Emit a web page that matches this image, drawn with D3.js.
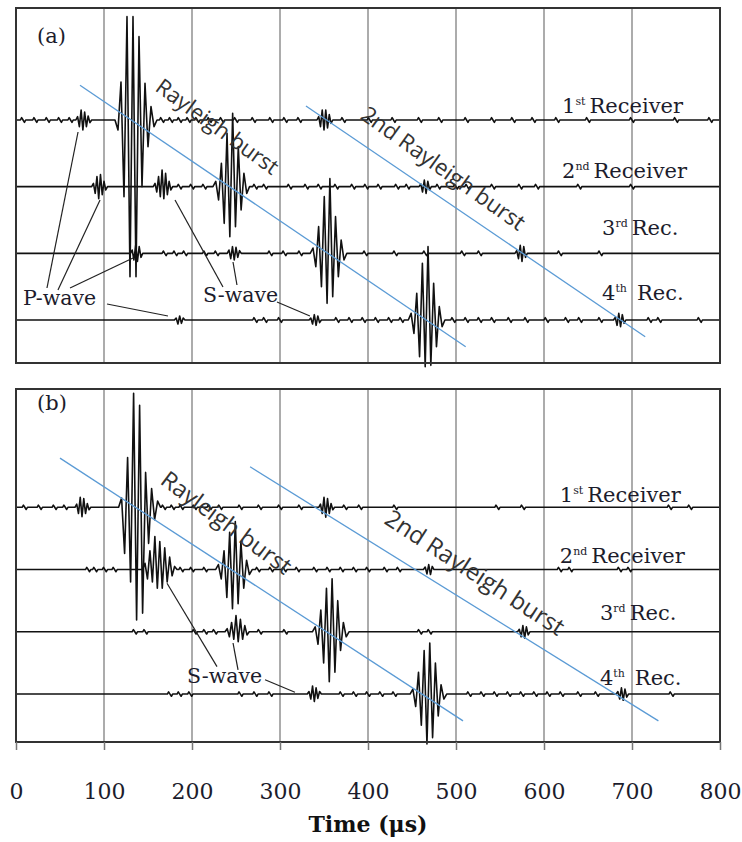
<!DOCTYPE html>
<html>
<head>
<meta charset="utf-8">
<script src="https://cdn.jsdelivr.net/npm/d3@7"></script>
<style>
  body { margin: 0; background: #fff; }
</style>
</head>
<body>
<svg id="chart" width="742" height="842"></svg>
<script>
// time axis (µs)
const timeTicks = [0, 100, 200, 300, 400, 500, 600, 700, 800];
const gridTimes = [100, 200, 300, 400, 500, 600, 700];

// receivers, top to bottom
const recNum = ["1", "2", "3", "4"];
const recSup = ["st", "nd", "rd", "th"];
const recName = ["Receiver", "Receiver", "Rec.", "Rec."];
const traceOffset = [3, 2, 1, 0];

// wave packets per receiver: [start µs, step µs, successive peak amplitudes]
const burstsA = [
  [[70, 2, [0.05, -0.1, 0.15, -0.15, 0.12, -0.1, 0.06, -0.04]],
   [115.9, 3.41, [-0.15, 0.57, -1.15, 1.55, -2.35, 1.55, -2.35, 1.25, -1.0, 0.55, -0.4, 0.2, -0.1]],
   [344, 2, [0.05, -0.1, 0.15, -0.15, 0.15, -0.12, 0.08, -0.05]]],
  [[88, 2, [0.05, -0.1, 0.15, -0.18, 0.18, -0.12, 0.08, -0.05]],
   [158, 2, [0.05, -0.08, 0.15, -0.15, 0.25, -0.18, 0.2, -0.12, 0.08, -0.05]],
   [227, 3.2, [0.08, -0.2, 0.35, -0.55, 0.8, -0.75, 1.1, -0.6, 0.6, -0.35, 0.2, -0.1]],
   [460, 2, [0.04, -0.08, 0.1, -0.1, 0.08, -0.05]]],
  [[132, 2, [0.05, -0.1, 0.12, -0.12, 0.1, -0.06]],
   [242, 2, [0.05, -0.08, 0.1, -0.1, 0.09, -0.06, 0.04]],
   [337.5, 3.2, [0.08, -0.2, 0.4, -0.5, 0.85, -0.75, 1.12, -0.65, 0.55, -0.35, 0.2, -0.1]],
   [569, 2, [0.04, -0.08, 0.12, -0.12, 0.1, -0.06]]],
  [[182, 2, [0.03, -0.06, 0.06, -0.05, 0.03]],
   [335, 2, [0.03, -0.06, 0.08, -0.08, 0.06, -0.04]],
   [449, 3.2, [0.1, -0.2, 0.4, -0.55, 0.85, -0.7, 1.1, -0.68, 0.55, -0.4, 0.2, -0.1]],
   [681, 2, [0.04, -0.08, 0.1, -0.1, 0.08, -0.05]]]
];
// small baseline wiggles (µs)
const ripplesA = [
  [8, 22, 36, 50, 62, 166, 176, 186, 196, 206, 220, 234, 250, 270, 290, 306, 322, 372, 402, 429, 459, 482, 512, 542, 565, 588, 615, 650, 700, 750, 789],
  [186, 200, 214, 272, 283, 311, 330, 345, 364, 383, 398, 413, 433, 445, 480, 500, 513, 542, 573, 592, 640, 700],
  [169, 181, 192, 215, 228, 289, 305, 323, 397, 431, 465, 508, 527, 618, 664],
  [272, 283, 300, 365, 380, 395, 410, 425, 438, 497, 512, 527, 542, 561, 580, 603, 626, 641, 664, 720, 731, 777]
];

const burstsB = [
  [[69, 2, [0.05, -0.1, 0.16, -0.15, 0.14, -0.1, 0.06, -0.04]],
   [120, 3.41, [0.15, -0.74, 0.8, -1.2, 1.83, -1.81, 1.64, -1.7, 0.56, -0.58, 0.3, -0.2, 0.1]],
   [346, 2, [0.05, -0.1, 0.16, -0.16, 0.14, -0.1, 0.06, -0.04]]],
  [[146.6, 2.8, [0.1, -0.15, 0.3, -0.2, 0.53, -0.3, 0.45, -0.3, 0.35, -0.2, 0.2, -0.1, 0.05]],
   [230, 3.2, [0.08, -0.15, 0.3, -0.45, 0.6, -0.63, 0.77, -0.55, 0.45, -0.3, 0.15, -0.08]],
   [465, 2, [0.04, -0.07, 0.08, -0.08, 0.05]]],
  [[240, 2.5, [0.05, -0.08, 0.15, -0.12, 0.26, -0.16, 0.2, -0.12, 0.1, -0.05]],
   [340, 3.2, [0.08, -0.2, 0.35, -0.5, 0.7, -0.8, 0.85, -0.65, 0.5, -0.3, 0.15, -0.08]],
   [572, 2, [0.04, -0.08, 0.1, -0.1, 0.08, -0.05]]],
  [[333, 2, [0.04, -0.08, 0.13, -0.12, 0.1, -0.07, 0.04]],
   [451, 3.2, [0.08, -0.2, 0.35, -0.5, 0.7, -0.8, 0.82, -0.7, 0.5, -0.35, 0.15, -0.08]],
   [684, 2, [0.04, -0.08, 0.1, -0.1, 0.08, -0.05]]]
];
const ripplesB = [
  [10, 27, 44, 56, 168, 178, 188, 203, 220, 232, 255, 277, 300, 323, 374, 391, 431, 547, 576, 743, 766],
  [82, 90, 101, 112, 188, 200, 215, 275, 290, 305, 320, 340, 355, 370, 385, 400, 420, 435, 618, 630, 686, 697],
  [135, 147, 203, 215, 226, 277, 306, 459, 470],
  [175, 186, 198, 255, 272, 289, 370, 385, 400, 415, 430, 445, 515, 530, 545, 560, 575, 590, 605, 620, 640, 660, 745]
];

// Rayleigh burst guide lines: [t1, v1, t2, v2]
const raysA = [[72.7, 3.52, 511, -0.40], [329.5, 3.21, 715, -0.25]];
const raysB = [[50, 3.79, 508, -0.43], [266, 3.65, 730, -0.43]];

const serif = "'DejaVu Serif', 'Liberation Serif', serif";
const sans = "'Open Sans', 'Liberation Sans', sans-serif";
const ripple = 0.035;

const svg = d3.select("#chart");
svg.append("rect").attr("width", 742).attr("height", 842).attr("fill", "#fff");

const x = d3.scaleLinear().domain([0, 800]).range([16, 720]);
const yA = d3.scaleLinear().domain([-0.645, 4.68]).range([363, 8]);
const yB = d3.scaleLinear().domain([-0.77, 4.9]).range([742, 389]);

function tracePoints(bursts, rips) {
  const ev = bursts.map(([t0, dt, pk]) => ({
    s: t0 - dt, e: t0 + dt * pk.length,
    pts: pk.map((a, i) => [t0 + i * dt, a])
  }));
  const spans = ev.slice();
  rips.forEach(t => {
    if (spans.some(b => t + 3 > b.s && t - 3 < b.e)) return;
    ev.push({s: t - 3, e: t + 3, pts: [[t - 1.6, ripple], [t, 0], [t + 1.6, -ripple]]});
  });
  ev.sort((a, b) => a.s - b.s);
  const pts = [[0, 0]];
  ev.forEach(e => pts.push([e.s, 0], ...e.pts, [e.e, 0]));
  pts.push([800, 0]);
  return pts;
}

function panel(y, bursts, rips, rays) {
  const g = svg.append("g");
  const [bottom, top] = y.range();

  g.selectAll(".grid").data(gridTimes).join("line")
    .attr("class", "grid")
    .attr("x1", d => x(d)).attr("x2", d => x(d))
    .attr("y1", top).attr("y2", bottom)
    .attr("stroke", "#909090").attr("stroke-width", 1.5);

  const line = d3.line().x(d => x(d[0])).y(d => y(d[1]));
  bursts.forEach((b, i) => {
    const pts = tracePoints(b, rips[i]).map(p => [p[0], traceOffset[i] + p[1]]);
    g.append("path").attr("d", line(pts))
      .attr("fill", "none").attr("stroke", "#111")
      .attr("stroke-width", 1.6).attr("stroke-linejoin", "round");
  });

  g.selectAll(".ray").data(rays).join("line")
    .attr("class", "ray")
    .attr("x1", d => x(d[0])).attr("y1", d => y(d[1]))
    .attr("x2", d => x(d[2])).attr("y2", d => y(d[3]))
    .attr("stroke", "#5b9bd5").attr("stroke-width", 1.3);

  g.append("rect")
    .attr("x", x(0)).attr("y", top)
    .attr("width", x(800) - x(0)).attr("height", bottom - top)
    .attr("fill", "none").attr("stroke", "#333").attr("stroke-width", 2);
  return g;
}

function recLabels(g, y, pos) {
  pos.forEach(([t, v], i) => {
    const txt = g.append("text")
      .attr("x", x(t)).attr("y", y(v))
      .attr("font-family", serif).attr("font-size", 21).attr("fill", "#1c1c2c");
    txt.append("tspan").text(recNum[i]);
    txt.append("tspan").attr("font-size", 11).attr("dy", -8).text(recSup[i]);
    txt.append("tspan").attr("dy", 8).attr("dx", i === 3 ? 10 : 4).text(recName[i]);
  });
}

function leaders(g, y, segs) {
  g.selectAll(".lead").data(segs).join("line")
    .attr("class", "lead")
    .attr("x1", d => x(d[0])).attr("y1", d => y(d[1]))
    .attr("x2", d => x(d[2])).attr("y2", d => y(d[3]))
    .attr("stroke", "#222").attr("stroke-width", 1.2);
}

function slanted(g, y, label, t, v, angle, size) {
  g.append("text")
    .attr("transform", `translate(${x(t)},${y(v)}) rotate(${angle})`)
    .attr("font-family", sans).attr("font-size", size).attr("fill", "#333")
    .text(label);
}

function plain(g, y, label, t, v, size) {
  g.append("text").attr("x", x(t)).attr("y", y(v))
    .attr("font-family", serif).attr("font-size", size).attr("fill", "#1c1c2c")
    .text(label);
}

// panel (a)
const gA = panel(yA, burstsA, ripplesA, raysA);
plain(gA, yA, "(a)", 23.9, 4.16, 21);
slanted(gA, yA, "Rayleigh burst", 156.8, 3.45, 36, 22);
slanted(gA, yA, "2nd Rayleigh burst", 390, 3.03, 35.5, 22.5);
recLabels(gA, yA, [[620.5, 3.105], [620.5, 2.13], [666, 1.275], [666, 0.30]]);
leaders(gA, yA, [
  [35.2, 0.48, 70.5, 2.82], [47.7, 0.45, 95.5, 1.80], [61.4, 0.48, 133, 0.93],
  [103.4, 0.24, 172.7, 0.06], [235.2, 0.495, 180.7, 1.80], [251.1, 0.525, 246.6, 0.87],
  [296.6, 0.27, 334, 0.06]
]);
plain(gA, yA, "P-wave", 8, 0.225, 20.5);
plain(gA, yA, "S-wave", 212.5, 0.27, 20.5);

// panel (b)
const gB = panel(yB, burstsB, ripplesB, raysB);
plain(gB, yB, "(b)", 23.9, 4.56, 21);
slanted(gB, yB, "Rayleigh burst", 162.5, 3.39, 36.5, 23.5);
slanted(gB, yB, "2nd Rayleigh burst", 417, 2.75, 33, 24);
recLabels(gB, yB, [[618, 3.09], [618, 2.11], [663.6, 1.19], [663.6, 0.15]]);
leaders(gB, yB, [
  [228.4, 0.44, 171.6, 1.78], [252.3, 0.39, 246.6, 0.82], [283, 0.23, 317, 0.03]
]);
plain(gB, yB, "S-wave", 194.3, 0.18, 20.5);

// time axis under panel (b)
const axis = svg.append("g")
  .attr("transform", `translate(0,${yB.range()[0]})`)
  .call(d3.axisBottom(x).tickValues(timeTicks).tickSize(8).tickPadding(33)
    .tickFormat(d3.format("d")));
axis.select(".domain").remove();
axis.attr("font-family", serif).attr("font-size", 22);
axis.selectAll("line").attr("stroke", "#777").attr("stroke-width", 1.5);
axis.selectAll("text").attr("fill", "#1c1c2c");

svg.append("text")
  .attr("x", (x(0) + x(800)) / 2).attr("y", 832)
  .attr("text-anchor", "middle")
  .attr("font-family", serif).attr("font-size", 22).attr("font-weight", "bold")
  .attr("fill", "#111")
  .text("Time (μs)");
</script>
</body>
</html>
